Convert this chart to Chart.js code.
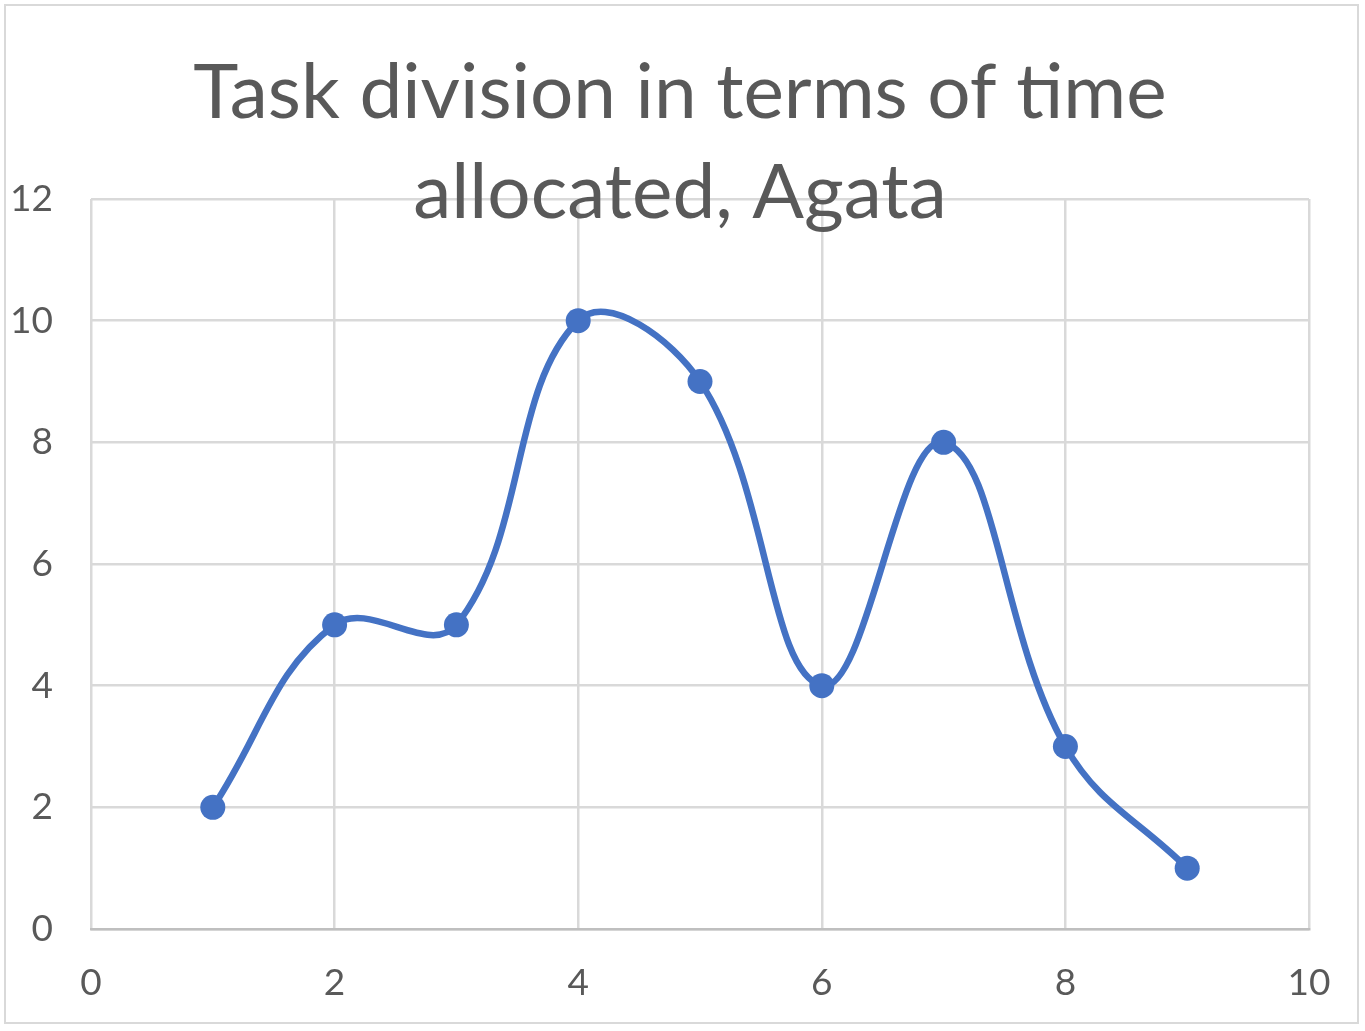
<!DOCTYPE html>
<html>
<head>
<meta charset="utf-8">
<script src="https://cdn.jsdelivr.net/npm/chart.js@4"></script>
<style>
  html, body { margin: 0; padding: 0; background: #fff; }
  #wrap { position: relative; width: 1365px; height: 1031px; }
</style>
</head>
<body>
<div id="wrap"><canvas id="chart" width="1365" height="1031"></canvas></div>
<script>
const xValues = [1, 2, 3, 4, 5, 6, 7, 8, 9]
const yValues = [2, 5, 5, 10, 9, 4, 8, 3, 1]
const titleLines = ["Task division in terms of time", "allocated, Agata"]

const textColor = "#595959"
const gridColor = "#d9d9d9"
const lineColor = "#4472c4"
const fontFamily = "Lato, 'Open Sans', sans-serif"

// Excel-style title that overlaps the plot area, plus the outer chart border
const overlayPlugin = {
  id: "overlay",
  afterDraw(chart) {
    const ctx = chart.ctx
    ctx.save()
    ctx.strokeStyle = gridColor
    ctx.lineWidth = 2
    ctx.strokeRect(5, 5, 1353, 1018)
    ctx.fillStyle = textColor
    ctx.textAlign = "center"
    ctx.textBaseline = "alphabetic"
    ctx.font = "76.5px " + fontFamily
    ctx.fillText(titleLines[0], 680, 118)
    ctx.fillText(titleLines[1], 680, 218)
    ctx.restore()
  },
}

new Chart(document.getElementById("chart"), {
  type: "line",
  data: {
    datasets: [
      {
        data: xValues.map((x, i) => ({ x: x, y: yValues[i] })),
        borderColor: lineColor,
        backgroundColor: lineColor,
        borderWidth: 6.5,
        pointRadius: 12.5,
        pointHoverRadius: 12.5,
        pointBorderWidth: 0,
        tension: 0.4,
        fill: false,
      },
    ],
  },
  options: {
    responsive: false,
    animation: false,
    layout: { padding: { top: 199, right: 56, left: 0, bottom: 0 } },
    plugins: {
      legend: { display: false },
      title: { display: false },
      tooltip: { enabled: false },
    },
    scales: {
      x: {
        type: "linear",
        min: 0,
        max: 10,
        ticks: {
          stepSize: 2,
          color: textColor,
          font: { family: fontFamily, size: 37 },
          padding: 32,
        },
        grid: { color: gridColor, lineWidth: 2.5, drawTicks: false },
        border: { color: "#bfbfbf", width: 2.5 },
        afterFit(scale) { scale.height = 102 },
      },
      y: {
        min: 0,
        max: 12,
        ticks: {
          stepSize: 2,
          color: textColor,
          font: { family: fontFamily, size: 37 },
          padding: 38,
        },
        grid: { color: gridColor, lineWidth: 2.5, drawTicks: false },
        border: { display: false },
        afterFit(scale) { scale.width = 91 },
      },
    },
  },
  plugins: [overlayPlugin],
})
</script>
</body>
</html>
